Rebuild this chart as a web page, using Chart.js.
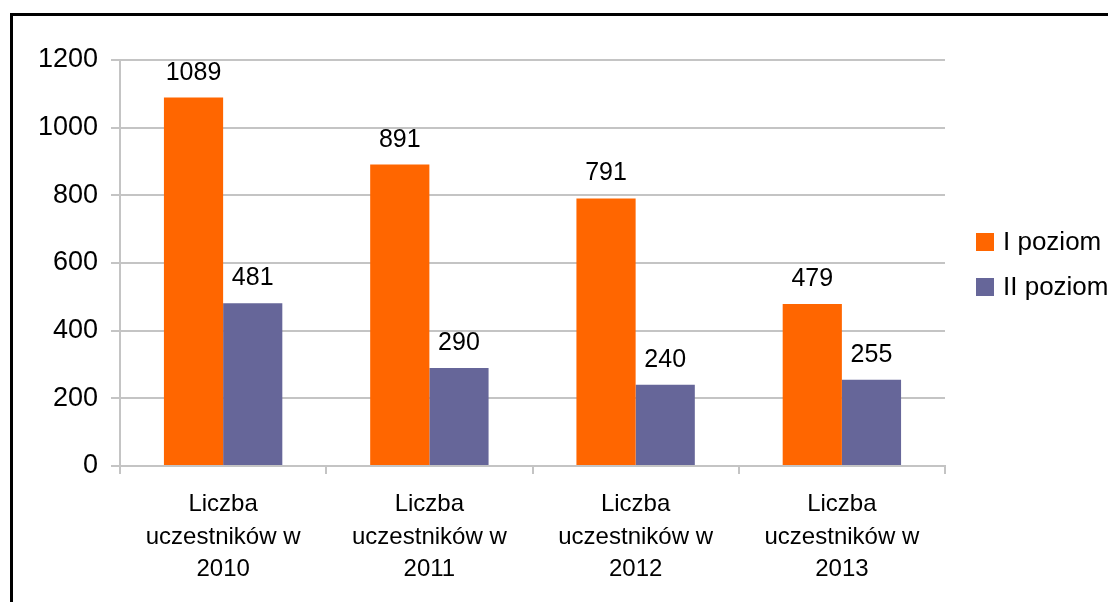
<!DOCTYPE html>
<html>
<head>
<meta charset="utf-8">
<script src="https://cdn.jsdelivr.net/npm/chart.js@4"></script>
<style>
    html, body { margin: 0; padding: 0; background: #fff; overflow: hidden; }
    #frame {
        position: absolute; left: 10px; top: 13px; width: 1200px; height: 700px;
        border-left: 3px solid #000; border-top: 3px solid #000; pointer-events: none;
    }
    #wykres { position: absolute; left: 0; top: 0; }
</style>
</head>
<body>
<canvas id="wykres" width="1108" height="602"></canvas>
<div id="frame"></div>
<script>
const kategorie = [
    ['Liczba', 'uczestników w', '2010'],
    ['Liczba', 'uczestników w', '2011'],
    ['Liczba', 'uczestników w', '2012'],
    ['Liczba', 'uczestników w', '2013']
];
const poziomI = [1089, 891, 791, 479];
const poziomII = [481, 290, 240, 255];
const nazwySerii = ['I poziom', 'II poziom'];
const kolory = ['#FF6600', '#666699'];
const osY = { min: 0, max: 1200, krok: 200 };

const FONT = "'Liberation Sans', Arial, sans-serif";
const siatka = '#c4c4c4';

const ctx = document.getElementById('wykres');

new Chart(ctx, {
    type: 'bar',
    data: {
        labels: kategorie,
        datasets: [
            { label: nazwySerii[0], data: poziomI, backgroundColor: kolory[0], borderWidth: 0 },
            { label: nazwySerii[1], data: poziomII, backgroundColor: kolory[1], borderWidth: 0 }
        ]
    },
    options: {
        responsive: false,
        animation: false,
        layout: { padding: { top: 60, right: 163, left: 0, bottom: 0 } },
        plugins: {
            legend: { display: false },
            tooltip: { enabled: false }
        },
        datasets: {
            bar: { barPercentage: 1, categoryPercentage: 0.574 }
        },
        scales: {
            x: {
                grid: {
                    offset: true,
                    drawOnChartArea: false,
                    drawTicks: true,
                    tickLength: 8,
                    color: siatka,
                    lineWidth: 2
                },
                border: { color: siatka, width: 2 },
                ticks: {
                    color: '#000',
                    padding: 14,
                    maxRotation: 0,
                    autoSkip: false,
                    font: { family: FONT, size: 24, lineHeight: 1.36 }
                },
                afterFit(scale) { scale.height = 136; }
            },
            y: {
                min: osY.min,
                max: osY.max,
                grid: {
                    color: siatka,
                    lineWidth: 2,
                    tickLength: 9
                },
                border: { color: siatka, width: 2 },
                ticks: {
                    stepSize: osY.krok,
                    color: '#000',
                    padding: 13,
                    font: { family: FONT, size: 27 },
                    callback: value => String(value)
                },
                afterFit(scale) { scale.width = 120; }
            }
        }
    },
    plugins: [{
        id: 'etykiety',
        afterDatasetsDraw(chart) {
            const { ctx } = chart;
            ctx.save();
            ctx.fillStyle = '#000';
            ctx.font = '25px ' + FONT;
            ctx.textAlign = 'center';
            ctx.textBaseline = 'alphabetic';
            chart.data.datasets.forEach((ds, i) => {
                chart.getDatasetMeta(i).data.forEach((bar, j) => {
                    ctx.fillText(String(ds.data[j]), bar.x, bar.y - 18);
                });
            });
            ctx.restore();
        }
    }, {
        id: 'legenda',
        afterDraw(chart) {
            const { ctx } = chart;
            ctx.save();
            ctx.font = '26px ' + FONT;
            ctx.textAlign = 'left';
            ctx.textBaseline = 'middle';
            chart.data.datasets.forEach((ds, i) => {
                const y = 233 + i * 45;
                ctx.fillStyle = ds.backgroundColor;
                ctx.fillRect(976, y, 18, 18);
                ctx.fillStyle = '#000';
                ctx.fillText(ds.label, 1003, y + 10);
            });
            ctx.restore();
        }
    }]
});
</script>
</body>
</html>
